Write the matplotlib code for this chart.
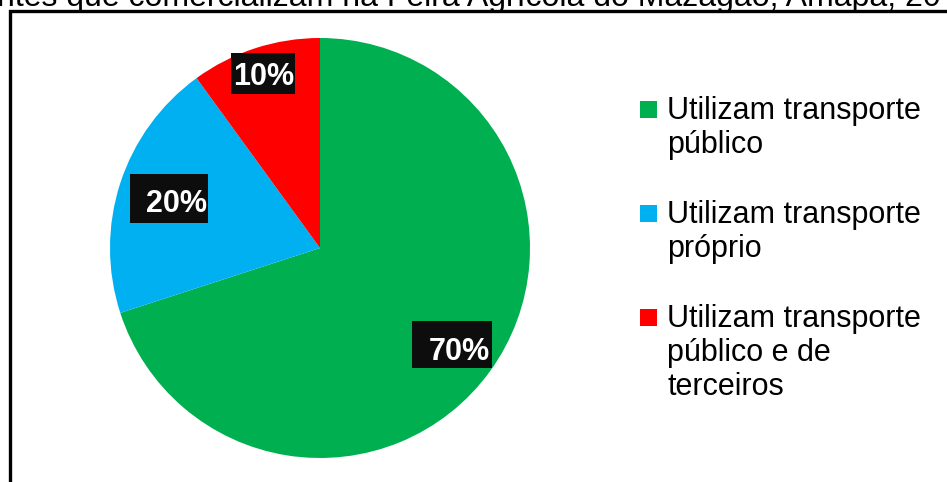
import matplotlib
matplotlib.use("Agg")
import matplotlib.pyplot as plt
from matplotlib.patches import Rectangle
from matplotlib.transforms import IdentityTransform, offset_copy
import numpy as np

# ---- data ----
categories = ["Utilizam transporte\npúblico",
              "Utilizam transporte\npróprio",
              "Utilizam transporte\npúblico e de\nterceiros"]
values = [70, 20, 10]
pct_labels = ["70%", "20%", "10%"]
colors = ["#00B050", "#00B0F0", "#FF0000"]
title_text = "ntes que comercializam na Feira Agrícola do Mazagão, Amapá, 20"

W, H = 947, 482
DPI = 100
plt.rcParams['font.family'] = ['Liberation Sans', 'DejaVu Sans']

fig = plt.figure(figsize=(W / DPI, H / DPI), dpi=DPI)
fig.patch.set_facecolor("white")

def fx(x):
    return x / W

def fy(y_top):
    return 1 - y_top / H

# outer frame (partially cropped)
frame = Rectangle((fx(10), fy(H + 20)), fx(W + 20), (H + 20 - 11) / H,
                  transform=fig.transFigure, fill=False, edgecolor="black",
                  linewidth=2.4, clip_on=False)
fig.add_artist(frame)

# cropped title at top
fig.text(fx(-3), fy(6), title_text, fontsize=23, va="baseline", ha="left",
         color="black")

# ---- pie ----
cx, cy, R = 320, 248, 210
ax = fig.add_axes([fx(cx - R), fy(cy + R), 2 * R / W, 2 * R / H])
wedges, _ = ax.pie(values, colors=colors, startangle=90, counterclock=False,
                   radius=1.0, wedgeprops=dict(linewidth=0))
ax.set_xlim(-1, 1)
ax.set_ylim(-1, 1)
ax.set_aspect("equal")
ax.axis("off")

label_dist = [0.82, 0.72, 0.87]
# pads in pixels: left, right, top, bottom (relative to text extent)
box_pads = [(17, 2, 16, 1), (16, 1, 15, 4), (2, 1, 9, 2)]
trans = offset_copy(ax.transData, fig=fig, x=0, y=-3, units="dots")
texts = []
for w, lab, d in zip(wedges, pct_labels, label_dist):
    ang = np.deg2rad((w.theta1 + w.theta2) / 2)
    t = ax.text(d * np.cos(ang), d * np.sin(ang), lab, transform=trans,
                ha="center", va="center", color="white", fontsize=22,
                fontweight="bold", zorder=6)
    texts.append(t)

fig.canvas.draw()
renderer = fig.canvas.get_renderer()
for t, (pl, pr, pt, pb) in zip(texts, box_pads):
    bb = t.get_window_extent(renderer)
    rect = Rectangle((bb.x0 - pl, bb.y0 - pb), bb.width + pl + pr,
                     bb.height + pt + pb, transform=IdentityTransform(),
                     facecolor="#0D0D0D", edgecolor="none", zorder=5,
                     clip_on=False)
    ax.add_artist(rect)

# ---- legend (manual) ----
sq = 17
leg_x_sq = 640
leg_x_txt = 667
entry_top = [101, 205, 309]
line_h = 34
for lab, col, top in zip(categories, colors, entry_top):
    fig.add_artist(Rectangle((fx(leg_x_sq), fy(top + sq)), sq / W, sq / H,
                             transform=fig.transFigure, facecolor=col,
                             edgecolor="none"))
    base = top + 18
    for i, line in enumerate(lab.split("\n")):
        fig.text(fx(leg_x_txt), fy(base + i * line_h), line, fontsize=22,
                 va="baseline", ha="left", color="black")

fig.savefig("out.png", dpi=DPI, facecolor="white")
